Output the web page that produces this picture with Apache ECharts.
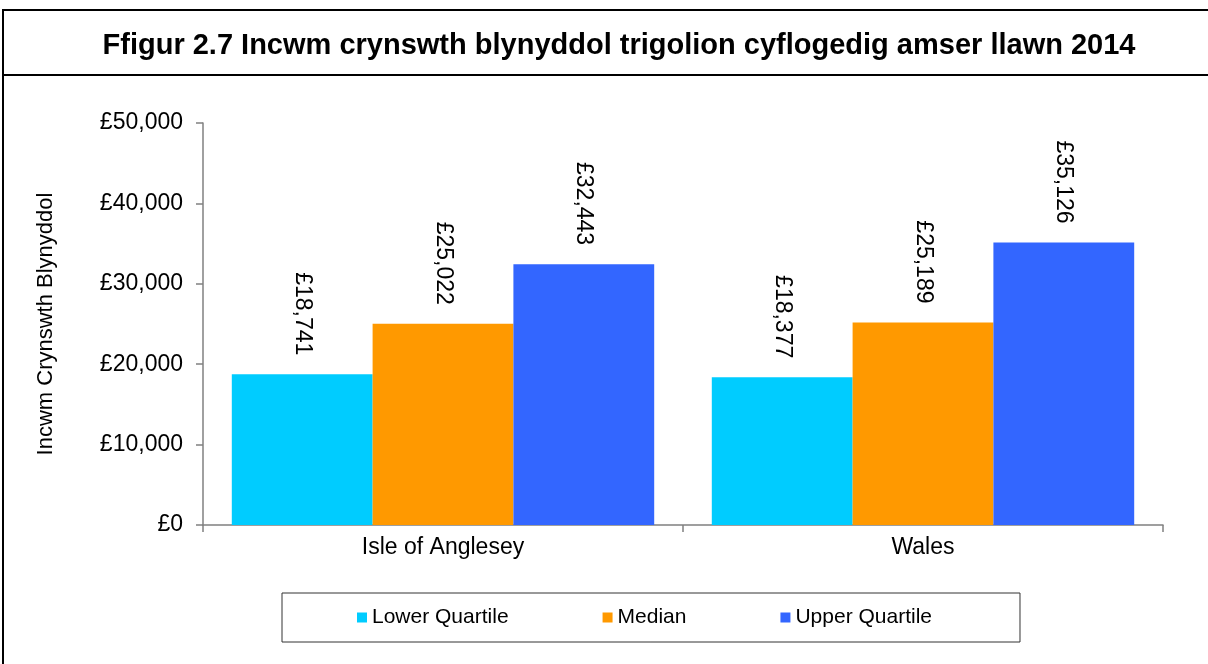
<!DOCTYPE html>
<html lang="cy">
  <head>
    <meta charset="UTF-8" />
    <title>Ffigur 2.7</title>
    <style>
      html,
      body {
        margin: 0;
        padding: 0;
        width: 100%;
        height: 100%;
        background: #fff;
      }
      #main {
        width: 1208px;
        height: 664px;
      }
    </style>
    <script src="https://cdn.jsdelivr.net/npm/echarts@6/dist/echarts.min.js"></script>
  </head>
  <body>
    <div id="main"></div>
    <script>
      // data
      var categories = ["Isle of Anglesey", "Wales"];
      var seriesNames = ["Lower Quartile", "Median", "Upper Quartile"];
      var lowerQuartile = [18741, 18377];
      var median = [25022, 25189];
      var upperQuartile = [32443, 35126];
      var colors = ["#00ccff", "#ff9900", "#3366ff"];

      var font = "Liberation Sans, Arial, sans-serif";

      function money(v) {
        return "£" + Number(v).toLocaleString("en-GB");
      }

      var myChart = echarts.init(document.getElementById("main"));

      function bar(name, data, color) {
        return {
          name: name,
          type: "bar",
          data: data,
          barGap: 0,
          barCategoryGap: "12%",
          itemStyle: { color: color },
          label: {
            show: true,
            position: "top",
            distance: 19,
            rotate: -90,
            align: "right",
            verticalAlign: "middle",
            color: "#000",
            fontFamily: font,
            fontSize: 23,
            formatter: function (p) {
              return money(p.value);
            },
          },
        };
      }

      var option = {
        backgroundColor: "#fff",
        animation: false,
        title: {
          text: "Ffigur 2.7 Incwm crynswth blynyddol trigolion cyflogedig amser llawn 2014",
          left: 614,
          top: 26,
          textAlign: "center",
          textStyle: {
            fontFamily: font,
            fontWeight: "bold",
            fontSize: 29,
            color: "#000",
          },
        },
        graphic: [
          {
            type: "rect",
            shape: { x: 3, y: 10, width: 1230, height: 700 },
            style: { fill: "none", stroke: "#000", lineWidth: 2 },
          },
          {
            type: "line",
            shape: { x1: 3, y1: 75, x2: 1230, y2: 75 },
            style: { stroke: "#000", lineWidth: 2 },
          },
        ],
        legend: {
          data: seriesNames,
          left: 282,
          top: 593,
          padding: [14, 88, 14, 75],
          itemGap: 94,
          itemWidth: 10,
          itemHeight: 10,
          icon: "rect",
          borderColor: "#333",
          borderWidth: 1,
          textStyle: {
            fontFamily: font,
            fontSize: 21,
            color: "#000",
          },
        },
        grid: {
          left: 203,
          right: 45,
          top: 123,
          bottom: 139,
          containLabel: false,
        },
        xAxis: {
          type: "category",
          data: categories,
          axisLine: { lineStyle: { color: "#808080", width: 1.5 } },
          axisTick: { show: true, length: 7, lineStyle: { color: "#808080", width: 1.5 } },
          axisLabel: {
            margin: 11,
            color: "#000",
            fontFamily: font,
            fontSize: 23,
          },
        },
        yAxis: {
          type: "value",
          min: 0,
          max: 50000,
          interval: 10000,
          name: "Incwm Crynswth Blynyddol",
          nameLocation: "middle",
          nameGap: 146,
          nameTextStyle: {
            color: "#000",
            fontFamily: font,
            fontSize: 22,
          },
          axisLine: { show: true, lineStyle: { color: "#808080", width: 1.5 } },
          axisTick: { show: true, length: 7, lineStyle: { color: "#808080", width: 1.5 } },
          splitLine: { show: false },
          axisLabel: {
            margin: 20,
            color: "#000",
            fontFamily: font,
            fontSize: 23,
            formatter: money,
          },
        },
        series: [
          bar(seriesNames[0], lowerQuartile, colors[0]),
          bar(seriesNames[1], median, colors[1]),
          bar(seriesNames[2], upperQuartile, colors[2]),
        ],
      };

      myChart.setOption(option);
    </script>
  </body>
</html>
